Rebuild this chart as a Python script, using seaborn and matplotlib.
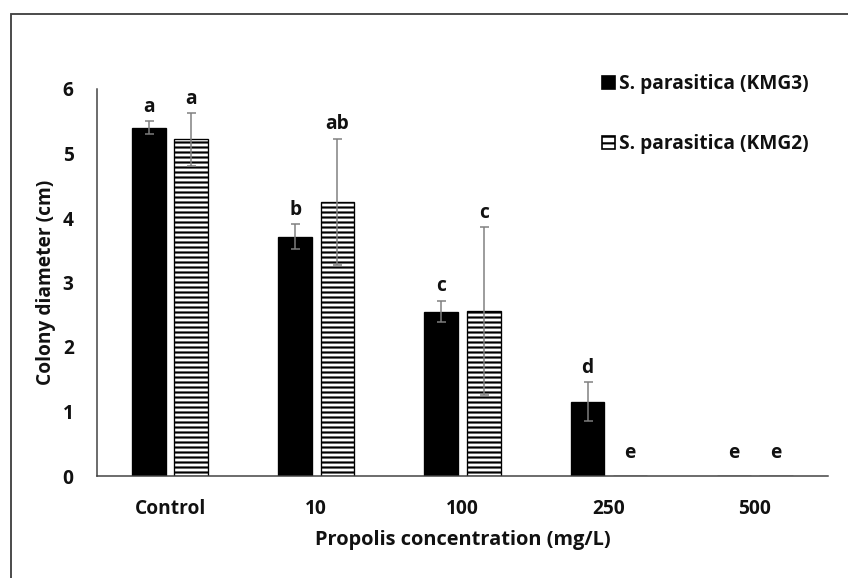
import matplotlib
matplotlib.use("Agg")
import matplotlib.pyplot as plt
from matplotlib.patches import Patch, Rectangle
from matplotlib.container import BarContainer
import seaborn as sns
import pandas as pd
import numpy as np

# ---- data ----
concentrations = ["Control", "10", "100", "250", "500"]
strains = ["S. parasitica (KMG3)", "S. parasitica (KMG2)"]
kmg3_mean = [5.40, 3.71, 2.55, 1.15, 0.0]
kmg3_err = [0.10, 0.19, 0.17, 0.30, 0.0]
kmg2_mean = [5.22, 4.25, 2.56, 0.0, 0.0]
kmg2_err = [0.41, 0.98, 1.30, 0.0, 0.0]
kmg3_letters = ["a", "b", "c", "d", "e"]
kmg2_letters = ["a", "ab", "c", "e", "e"]
y_ticks = [0, 1, 2, 3, 4, 5, 6]

df = pd.DataFrame({
    "conc": concentrations * 2,
    "strain": [strains[0]] * 5 + [strains[1]] * 5,
    "value": kmg3_mean + kmg2_mean,
})

sns.set_style("white")
plt.rcParams["font.family"] = ["Open Sans", "DejaVu Sans"]
plt.rcParams["font.weight"] = "bold"
plt.rcParams["hatch.linewidth"] = 1.3

FS = 11.5
TXT = "#111111"
DPI = 120
fig = plt.figure(figsize=(848 / DPI, 578 / DPI), dpi=DPI)
ax = fig.add_axes([97 / 848, 1 - 476 / 578, (828 - 97) / 848, (476 - 89) / 578])

sns.barplot(data=df, x="conc", y="value", hue="strain", order=concentrations,
            hue_order=strains, palette={strains[0]: "black", strains[1]: "white"},
            width=0.58, gap=0.2, errorbar=None, ax=ax, legend=False,
            edgecolor="black", linewidth=0.8)

means = [kmg3_mean, kmg2_mean]
errs = [kmg3_err, kmg2_err]
letters = [kmg3_letters, kmg2_letters]
bar_containers = [c for c in ax.containers if isinstance(c, BarContainer)]
for ci, cont in enumerate(bar_containers):
    for i, bar in enumerate(list(cont.patches)):
        if ci == 1:
            bar.set_hatch("----")
            bar.set_edgecolor("black")
        xc = bar.get_x() + bar.get_width() / 2
        m, e = means[ci][i], errs[ci][i]
        if e > 0:
            ax.errorbar(xc, m, yerr=e, fmt="none", ecolor="#7f7f7f",
                        elinewidth=0.9, capsize=2.7, capthick=0.9, zorder=5)
        off = 8.5 if e > 0 else 14
        ax.annotate(letters[ci][i], (xc, m + e), xytext=(0, off),
                    textcoords="offset points", ha="center", va="center",
                    fontsize=FS, fontweight="bold", color=TXT,
                    annotation_clip=False)

ax.set_ylim(0, 6)
ax.set_xlim(-0.5, 4.5)
ax.set_yticks(y_ticks)
ax.set_yticklabels([str(t) for t in y_ticks])
ax.tick_params(axis="both", length=0, labelsize=FS, colors=TXT)
ax.tick_params(axis="y", pad=14)
ax.tick_params(axis="x", pad=13.5)
for lab in ax.get_xticklabels() + ax.get_yticklabels():
    lab.set_fontweight("bold")
ax.set_xlabel("Propolis concentration (mg/L)", fontsize=12, fontweight="bold",
              color=TXT, labelpad=7)
ax.set_ylabel("Colony diameter (cm)", fontsize=FS, fontweight="bold",
              color=TXT)
ax.yaxis.set_label_coords(-0.056, 0.5)
sns.despine(ax=ax)
for s in ["left", "bottom"]:
    ax.spines[s].set_color("#404040")
    ax.spines[s].set_linewidth(0.9)

handles = [Patch(facecolor="black", edgecolor="black", label=strains[0]),
           Patch(facecolor="white", edgecolor="black", hatch="---", label=strains[1])]
leg = fig.legend(handles=handles, loc="upper left",
                 bbox_to_anchor=(602 / 848, 1 - 74 / 578), frameon=False,
                 fontsize=FS, handlelength=0.7, handleheight=0.7,
                 handletextpad=0.2, labelspacing=2.1, borderaxespad=0,
                 borderpad=0)
for t in leg.get_texts():
    t.set_fontweight("bold")
    t.set_color(TXT)

# outer frame (cropped border)
fig.patches.append(Rectangle((10.5 / 848, -0.1), 1.2, 1.1 - 14 / 578,
                             transform=fig.transFigure, fill=False,
                             edgecolor="#404040", linewidth=1.1))

fig.savefig("out.png", dpi=DPI)
